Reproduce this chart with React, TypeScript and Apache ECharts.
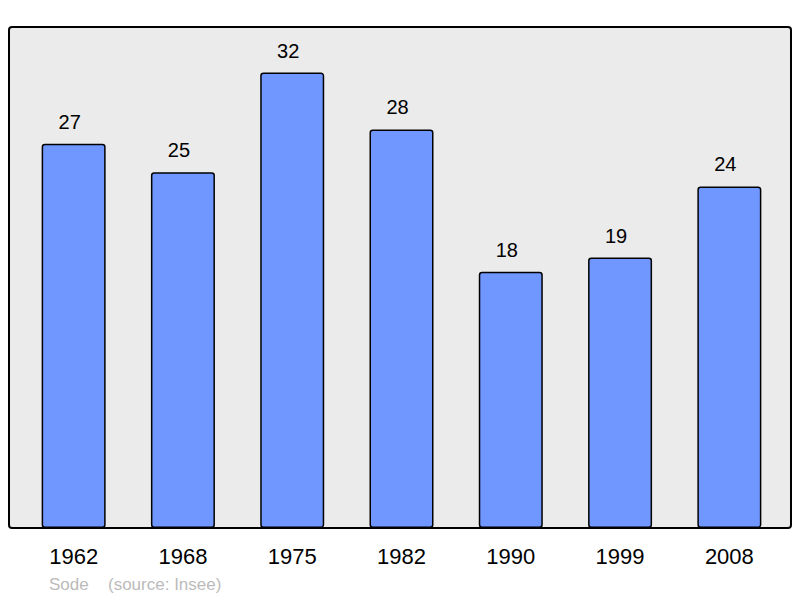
import React, { useEffect, useRef } from "react";
import * as echarts from "echarts";

const years = ["1962", "1968", "1975", "1982", "1990", "1999", "2008"];
const population = [27, 25, 32, 28, 18, 19, 24];
const placeName = "Sode";
const sourceText = "(source: Insee)";

export default function App() {
  const ref = useRef<HTMLDivElement>(null);
  useEffect(() => {
    if (!ref.current) return;
    const chart = echarts.init(ref.current, null, { renderer: "svg" });
    chart.setOption({
      animation: false,
      textStyle: { fontFamily: "Liberation Sans, Arial, sans-serif" },
      grid: { left: 19, right: 16, top: 27, bottom: 70 },
      xAxis: {
        type: "category",
        data: years,
        axisLine: { show: false },
        axisTick: { show: false },
        axisLabel: { color: "#000", fontSize: 22, margin: 17, fontFamily: "Liberation Sans, Arial, sans-serif" },
      },
      yAxis: {
        type: "value",
        min: 0,
        max: 35.2,
        show: false,
        splitLine: { show: false },
      },
      graphic: [
        {
          type: "rect",
          z: -10,
          shape: { x: 9, y: 27, width: 782, height: 501, r: 3 },
          style: { fill: "#ebebeb", stroke: "#000", lineWidth: 2 },
        },
        {
          type: "text",
          x: 49,
          y: 584,
          style: { text: placeName, fill: "#bbbbbb", fontSize: 17, fontFamily: "Liberation Sans, Arial, sans-serif", verticalAlign: "middle" },
        },
        {
          type: "text",
          x: 108,
          y: 584,
          style: { text: sourceText, fill: "#bbbbbb", fontSize: 17, fontFamily: "Liberation Sans, Arial, sans-serif", verticalAlign: "middle" },
        },
      ],
      series: [
        {
          type: "bar",
          data: population,
          barWidth: 64,
          itemStyle: { color: "#7097ff", borderColor: "#000", borderWidth: 1.5, borderRadius: 2.5 },
          label: {
            show: true,
            position: "top",
            distance: 12,
            offset: [-4, 0],
            color: "#000",
            fontSize: 20,
            fontFamily: "Liberation Sans, Arial, sans-serif",
          },
        },
      ],
    });
    return () => chart.dispose();
  }, []);
  return <div ref={ref} style={{ width: 800, height: 598, position: "absolute", left: 0, top: 0 }} />;
}
